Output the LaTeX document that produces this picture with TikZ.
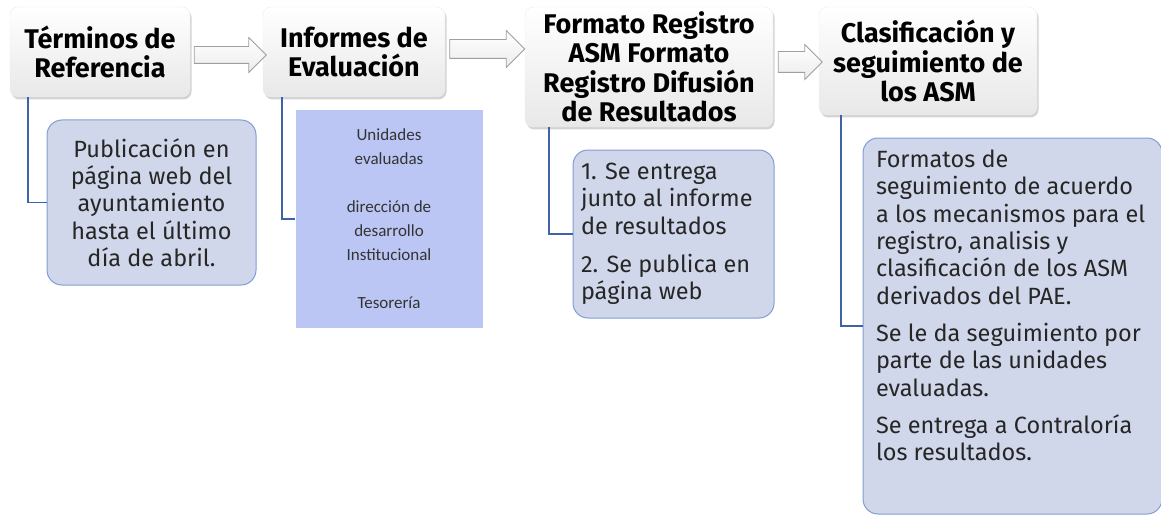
\documentclass[tikz,border=0pt]{standalone}
\usepackage{fontspec}
\setmainfont{Fira Sans}
\newfontfamily\calibrifont{Carlito}
\usetikzlibrary{shapes.arrows, shadows, positioning}
\definecolor{lineblue}{HTML}{3F62A8}
\definecolor{notefill}{HTML}{D1D7EA}
\definecolor{noteedge}{HTML}{7F9ED6}
\definecolor{listfill}{HTML}{BCC6F4}

\begin{document}
\begin{tikzpicture}[
        x=1pt, y=-1pt,
        header/.style={
            rounded corners=8pt, draw=gray!15,
            top color=white, bottom color=gray!18,
            drop shadow={shadow xshift=1.5pt, shadow yshift=-2.5pt, opacity=.35},
            font=\fontsize{27}{29.5}\selectfont\bfseries,
            align=center, inner sep=2pt
        },
        note/.style={
            rounded corners=15pt, draw=noteedge, line width=1pt, fill=notefill,
            font=\fontsize{23.5}{27.3}\selectfont, text=black!85
        },
        flowarrow/.style={
            single arrow, draw=gray!75, line width=0.8pt, top color=white, bottom color=gray!15,
            minimum width=34pt, single arrow head extend=9pt,
            inner xsep=0pt, inner ysep=8pt
        },
        branch/.style={draw=lineblue, line width=1.6pt}
    ]
    \useasboundingbox (0,0) rectangle (1161,516);

    % main steps
    \node[header, minimum width=180pt, minimum height=90pt] (terminos) at (100,52)
        {Términos de\\Referencia};
    \node[header, minimum width=182pt, minimum height=90pt] (informes) at (354,52)
        {Informes de\\Evaluación};
    \node[header, minimum width=248pt, minimum height=120pt] (formato) at (649,67)
        {Formato Registro\\ASM Formato\\Registro Difusión\\de Resultados};
    \node[header, minimum width=218pt, minimum height=108pt] (clasif) at (928,61)
        {Clasificación y\\seguimiento de\\los ASM};

    % arrows between steps
    \node[flowarrow, minimum height=72pt] (arrowA) at (226,55) {};
    \node[flowarrow, minimum height=75pt, inner ysep=9pt] (arrowB) at (482.5,49) {};
    \node[flowarrow, minimum height=44pt, inner ysep=10pt, single arrow head extend=7pt] (arrowC) at (795,62) {};

    % details
    \node[note, minimum width=209pt, minimum height=165pt, align=center] (publicacion) at (151.5,202.5)
        {Publicación en\\página web del\\ayuntamiento\\hasta el último\\día de abril.};
    \node[fill=listfill, minimum width=187pt, minimum height=218pt, align=center,
          font=\calibrifont\fontsize{17}{24}\selectfont, text=black!80] (unidades) at (389,219)
        {Unidades\\evaluadas\\[24pt]dirección de\\desarrollo\\Institucional\\[24pt]Tesorería};
    \node[note, minimum width=197pt, minimum height=168pt, align=left, inner xsep=8pt] (entrega) at (673.5,234)
        {\parbox{185pt}{1. Se entrega\\junto al informe\\de resultados\\[11pt]2. Se publica en\\página web}};
    \node[note, minimum width=299pt, minimum height=376pt, inner sep=0pt] (seguimiento) at (1012.5,326)
        {\hspace*{13pt}\parbox[c][376pt][t]{286pt}{\vspace{12pt}Formatos de\\seguimiento de acuerdo\\a los mecanismos para el\\registro, analisis y\\clasificación de los ASM\\derivados del PAE.\\[10pt]Se le da seguimiento por\\parte de las unidades\\evaluadas.\\[10pt]Se entrega a Contraloría\\los resultados.}};

    % branches
    \draw[branch] ([xshift=18pt]terminos.south west) |- (publicacion.west);
    \draw[branch] ([xshift=19pt]informes.south west) |- (unidades.west);
    \draw[branch] ([xshift=24pt]formato.south west) |- (entrega.west);
    \draw[branch] ([xshift=22pt]clasif.south west) |- (seguimiento.west);
\end{tikzpicture}
\end{document}
